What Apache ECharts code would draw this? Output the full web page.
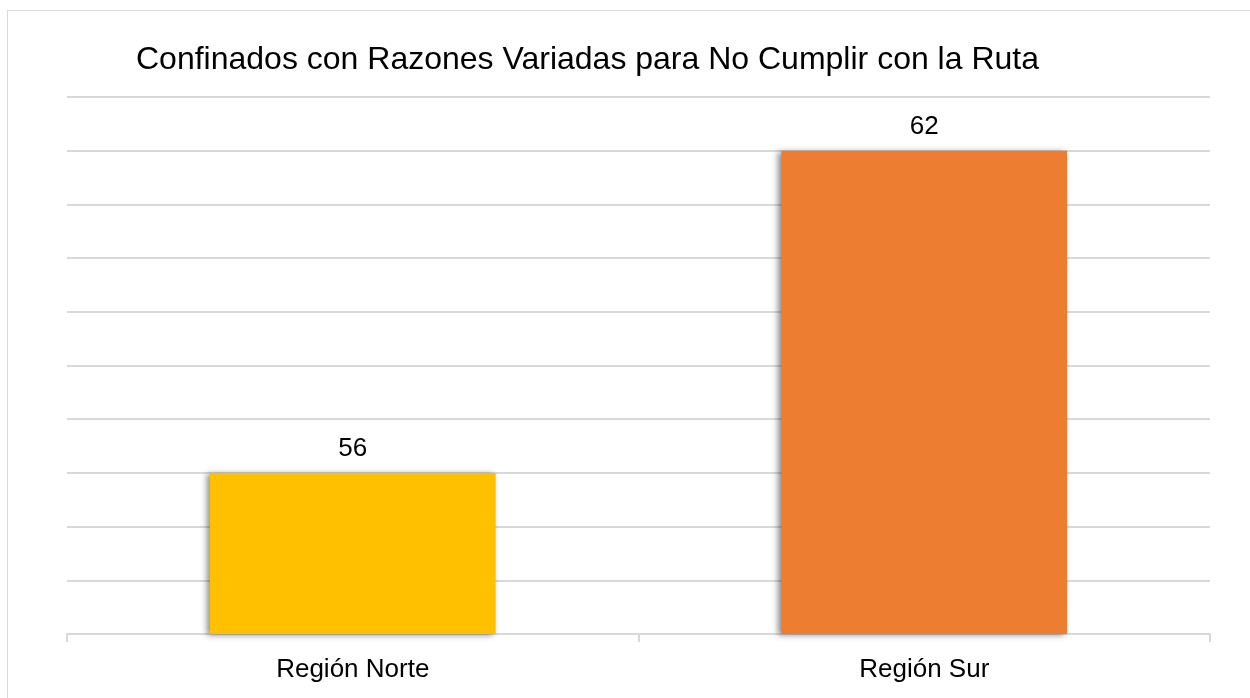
<html>
<head>
<title>Confinados</title>
<style type="text/css">
body{
	margin:0;
	background-color:white;
}
.frame{
	position:absolute;
	left:7px;
	top:10px;
	width:1260px;
	height:720px;
	border:1px solid #d9d9d9;
}
</style>
<script src="https://cdn.jsdelivr.net/npm/echarts@6/dist/echarts.min.js"></script>
</head>
<body>
	<div class="frame"></div>
	<div id="chart" style="position:absolute;left:0;top:0;width:1250px;height:698px;"></div>
	<script type="text/javascript">
		var categories = ['Región Norte', 'Región Sur'];
		var values = [56, 62];
		var barColors = ['#FFC000', '#ED7D31'];

		var myChart = echarts.init(document.getElementById('chart'));
		var option = {
			animation: false,
			title: {
				text: 'Confinados con Razones Variadas para No Cumplir con la Ruta',
				left: 131,
				top: 39,
				textStyle: {
					fontFamily: 'Liberation Sans',
					fontSize: 32,
					fontWeight: 'normal',
					color: '#000'
				}
			},
			grid: {
				left: 67,
				right: 40,
				top: 97,
				bottom: 64
			},
			xAxis: {
				type: 'category',
				data: categories,
				axisLine: { lineStyle: { color: '#d9d9d9', width: 2 } },
				axisTick: { show: true, length: 8, lineStyle: { color: '#d9d9d9', width: 2 } },
				axisLabel: {
					margin: 23,
					fontFamily: 'Liberation Sans',
					fontSize: 26,
					color: '#000'
				}
			},
			yAxis: {
				type: 'value',
				min: 53,
				max: 63,
				interval: 1,
				axisLabel: { show: false },
				axisLine: { show: false },
				axisTick: { show: false },
				splitLine: { lineStyle: { color: '#d9d9d9', width: 2 } }
			},
			series: [{
				type: 'bar',
				barWidth: '50%',
				data: values.map(function (v, i) {
					return { value: v, itemStyle: { color: barColors[i] } };
				}),
				itemStyle: {
					shadowColor: 'rgba(0,0,0,0.45)',
					shadowBlur: 6,
					shadowOffsetX: -3,
					shadowOffsetY: 1
				},
				label: {
					show: true,
					position: 'top',
					distance: 11,
					fontFamily: 'Liberation Sans',
					fontSize: 26,
					color: '#000'
				}
			}]
		};
		myChart.setOption(option);
	</script>
</body>
</html>
